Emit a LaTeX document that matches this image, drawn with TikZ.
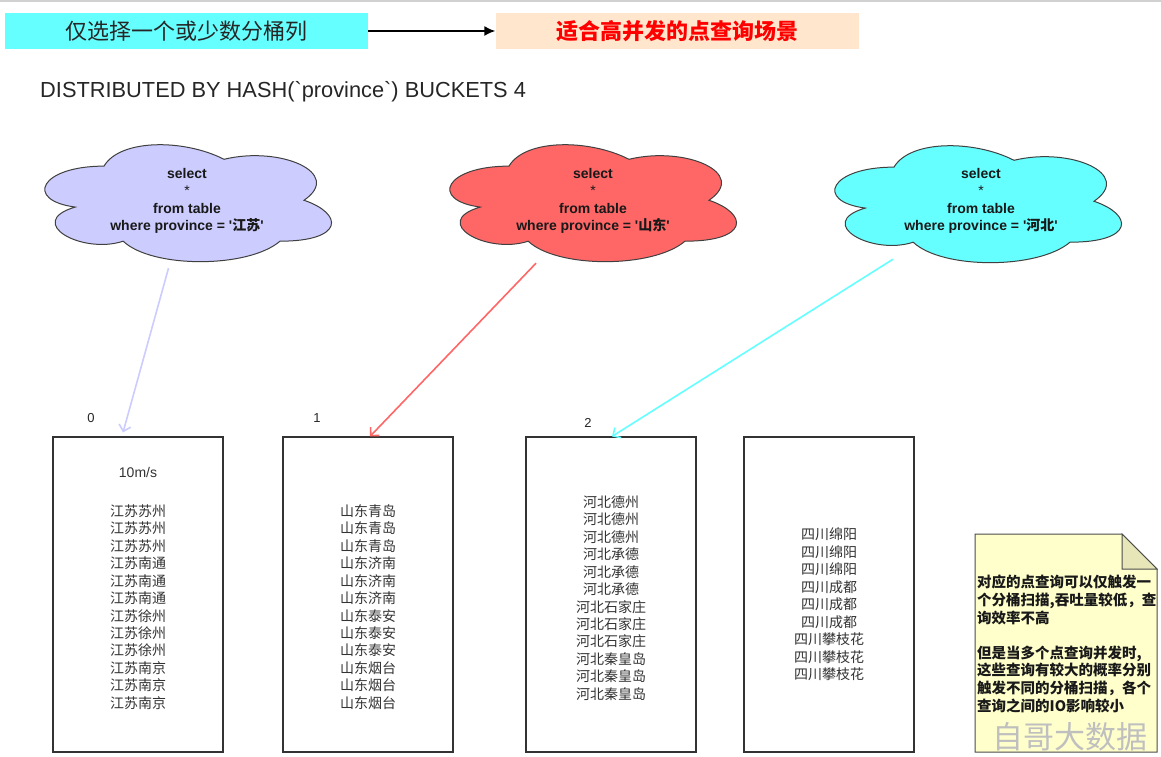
\documentclass[tikz,border=0pt]{standalone}
\usepackage{fontspec}
\setmainfont{Liberation Sans}[Ligatures=TeXOff]
\newfontfamily\cjk{Noto Sans CJK SC}
\usetikzlibrary{arrows.meta,calc}
\definecolor{lav}{HTML}{CCCCFF}
\definecolor{redc}{HTML}{FF6666}
\definecolor{cyanc}{HTML}{66FFFF}
\definecolor{peach}{HTML}{FFE6CC}
\definecolor{notey}{HTML}{FFFFCC}
\definecolor{notef}{HTML}{E6E6B8}
% draw.io style cloud: #1,#2 = top-left of frame, #3,#4 = frame size, #5 = fill
\newcommand\dioCloud[5]{%
  \filldraw[fill=#5, draw=black!75, line width=1pt, shift={(#1,#2)}, xscale=#3, yscale=#4]
    (0.25,0.25) .. controls (0.05,0.25) and (0,0.5) .. (0.16,0.55)
    .. controls (0,0.66) and (0.18,0.9) .. (0.31,0.8)
    .. controls (0.4,1) and (0.7,1) .. (0.8,0.8)
    .. controls (1,0.8) and (1,0.6) .. (0.875,0.5)
    .. controls (1,0.3) and (0.8,0.1) .. (0.625,0.2)
    .. controls (0.5,0.05) and (0.3,0.05) .. (0.25,0.25) -- cycle;}
\begin{document}
\begin{tikzpicture}[x=1pt,y=-1pt,
  topbox/.style={minimum width=363pt, minimum height=36pt, inner sep=0},
  bucket/.style={draw=black!80, line width=1.1pt, fill=white, minimum width=170pt, minimum height=315pt, inner sep=0},
  cloudframe/.style={minimum width=286pt, minimum height=117pt, inner sep=0},
  qtext/.style={align=center, inner sep=0, font=\fontsize{14}{17.5}\selectfont\bfseries, text=black!90},
  clist/.style={align=center, inner sep=0, font=\cjk\fontsize{14}{17.45}\selectfont, text=black!80},
  numlab/.style={inner sep=0, font=\fontsize{13}{15}\selectfont, text=black!85},
  qarrow/.style={line width=1.6pt, -{Straight Barb[length=6pt,width=12pt,line width=1.6pt]}}
]
\useasboundingbox (0,0) rectangle (1161,757);
\fill[white] (0,0) rectangle (1161,757);
\draw[black!18, line width=1.5pt] (0,1) -- (1161,1);

% top bar
\node[topbox, fill=cyanc, text=black!85, font=\cjk\fontsize{22}{25}\selectfont] (tb1) at (186.5,31) {仅选择一个或少数分桶列};
\node[topbox, fill=peach, text=red, font=\cjk\bfseries\fontsize{22}{25}\selectfont] (tb2) at (677,31) {适合高并发的点查询场景};
\draw[line width=1.6pt, -{Latex[length=11pt,width=10pt]}] (tb1.east) -- (tb2.west);

\node[anchor=west, inner sep=0, text=black!85, font=\fontsize{21.8}{25}\selectfont] (title) at (40,92) {DISTRIBUTED BY HASH(`province`) BUCKETS 4};

% clouds
\dioCloud{24}{132}{320}{136.5}{lav}
\dioCloud{429}{132}{320}{136.5}{redc}
\dioCloud{814}{133}{320}{136.5}{cyanc}
\node[cloudframe] (c1) at (187.5,203.5) {};
\node[cloudframe] (c2) at (593,203.5) {};
\node[cloudframe] (c3) at (978,204.5) {};
\node[qtext] (t1) at (187,201) {select\\{\mdseries *}\\from table\\where province = '{\cjk 江苏}'};
\node[qtext] (t2) at (593,201) {select\\{\mdseries *}\\from table\\where province = '{\cjk 山东}'};
\node[qtext] (t3) at (981,201) {select\\{\mdseries *}\\from table\\where province = '{\cjk 河北}'};

% buckets
\node[bucket] (b0) at (138,594.5) {};
\node[bucket] (b1) at (368,594.5) {};
\node[bucket] (b2) at (611,594.5) {};
\node[bucket] (b3) at (829,594.5) {};

\node[numlab] (l0) at (91,418) {0};
\node[numlab] (l1) at (317,418) {1};
\node[numlab] (l2) at (588,423) {2};

\node[inner sep=0, font=\fontsize{14}{16}\selectfont, text=black!80] (speed) at (138,472) {10m/s};
\node[clist] (list0) at (138,607) {江苏苏州\\江苏苏州\\江苏苏州\\江苏南通\\江苏南通\\江苏南通\\江苏徐州\\江苏徐州\\江苏徐州\\江苏南京\\江苏南京\\江苏南京};
\node[clist] (list1) at (368,607) {山东青岛\\山东青岛\\山东青岛\\山东济南\\山东济南\\山东济南\\山东泰安\\山东泰安\\山东泰安\\山东烟台\\山东烟台\\山东烟台};
\node[clist] (list2) at (611,598) {河北德州\\河北德州\\河北德州\\河北承德\\河北承德\\河北承德\\河北石家庄\\河北石家庄\\河北石家庄\\河北秦皇岛\\河北秦皇岛\\河北秦皇岛};
\node[clist] (list3) at (829,604.5) {四川绵阳\\四川绵阳\\四川绵阳\\四川成都\\四川成都\\四川成都\\四川攀枝花\\四川攀枝花\\四川攀枝花};

% arrows
\draw[qarrow, lav] ($(c1.south)+(-19,6)$) -- ($(b0.north)+(-15,-4)$);
\draw[qarrow, redc] ($(c2.south)+(-57,1)$) -- ($(b1.north)+(2,0)$);
\draw[qarrow, cyanc] ($(c3.south)+(-85,-4)$) -- ($(b2.north)+(1,0)$);

% note
\draw[black!70, line width=1pt, fill=notey] (975,534) -- (1122,534) -- (1157,569) -- (1157,752) -- (975,752) -- cycle;
\draw[black!70, line width=1pt, fill=notef] (1122,534) -- (1122,569) -- (1157,569) -- cycle;
\node[anchor=west, align=left, inner sep=0, text=black!90, font=\cjk\bfseries\fontsize{14.5}{17.6}\selectfont] (note) at (977,644) {对应的点查询可以仅触发一\\个分桶扫描,吞吐量较低，查\\询效率不高\\\mbox{}\\但是当多个点查询并发时,\\这些查询有较大的概率分别\\触发不同的分桶扫描，各个\\查询之间的IO影响较小};
\node[inner sep=0, text=black!25, font=\cjk\fontsize{31}{34}\selectfont] (wm) at (1070,737) {自哥大数据};
\end{tikzpicture}
\end{document}
